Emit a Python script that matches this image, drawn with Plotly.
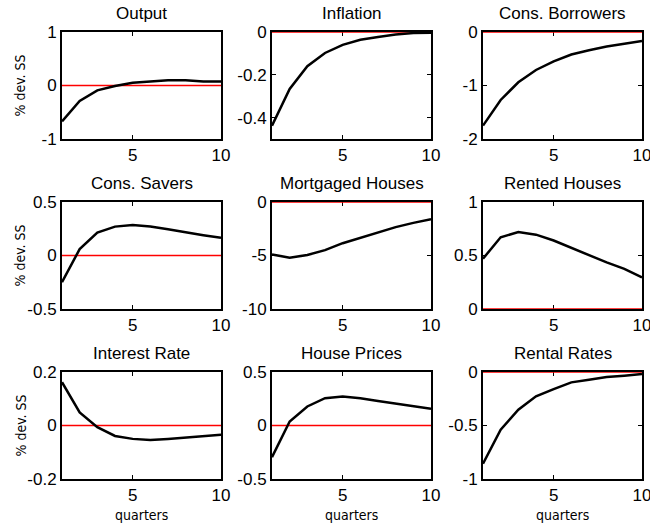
import plotly.graph_objects as go

# Impulse responses, quarters 1..10
quarters = [1, 2, 3, 4, 5, 6, 7, 8, 9, 10]

titles = ["Output", "Inflation", "Cons. Borrowers",
          "Cons. Savers", "Mortgaged Houses", "Rented Houses",
          "Interest Rate", "House Prices", "Rental Rates"]

output = [-0.67, -0.29, -0.09, -0.01, 0.05, 0.075, 0.10, 0.10, 0.075, 0.075]
inflation = [-0.438, -0.266, -0.16, -0.098, -0.06, -0.036, -0.023, -0.012, -0.005, -0.003]
cons_borrowers = [-1.75, -1.27, -0.94, -0.71, -0.55, -0.42, -0.34, -0.27, -0.22, -0.17]
cons_savers = [-0.25, 0.06, 0.215, 0.27, 0.285, 0.27, 0.245, 0.215, 0.19, 0.165]
mortgaged_houses = [-4.9, -5.2, -4.95, -4.5, -3.85, -3.35, -2.85, -2.35, -1.95, -1.6]
rented_houses = [0.47, 0.67, 0.72, 0.695, 0.64, 0.57, 0.50, 0.435, 0.375, 0.295]
interest_rate = [0.162, 0.049, -0.006, -0.039, -0.05, -0.054, -0.05, -0.045, -0.04, -0.035]
house_prices = [-0.296, 0.037, 0.178, 0.255, 0.27, 0.255, 0.23, 0.205, 0.18, 0.156]
rental_rates = [-0.857, -0.54, -0.353, -0.227, -0.16, -0.097, -0.072, -0.047, -0.034, -0.019]

series = [output, inflation, cons_borrowers,
          cons_savers, mortgaged_houses, rented_houses,
          interest_rate, house_prices, rental_rates]

y_ranges = [(-1, 1), (-0.5, 0), (-2, 0),
            (-0.5, 0.5), (-10, 0), (0, 1),
            (-0.2, 0.2), (-0.5, 0.5), (-1, 0)]
y_ticks = [[-1, 0, 1], [-0.4, -0.2, 0], [-2, -1, 0],
           [-0.5, 0, 0.5], [-10, -5, 0], [0, 0.5, 1],
           [-0.2, 0, 0.2], [-0.5, 0, 0.5], [-1, -0.5, 0]]
y_ticktext = [["-1", "0", "1"], ["-0.4", "-0.2", "0"], ["-2", "-1", "0"],
              ["-0.5", "0", "0.5"], ["-10", "-5", "0"], ["0", "0.5", "1"],
              ["-0.2", "0", "0.2"], ["-0.5", "0", "0.5"], ["-1", "-0.5", "0"]]
x_ticks = [5, 10]

W, H = 650, 525
col_px = [(62, 221), (272, 431), (483, 642)]
row_px = [(32, 139), (202, 309), (372, 479)]

tick_font = dict(family="Liberation Sans, Arial, sans-serif", size=17, color="black")
narrow_font = dict(family="DejaVu Sans Condensed, Liberation Sans Narrow, Arial Narrow, sans-serif",
                   size=14, color="black")

fig = go.Figure()
annotations = []
layout = {}

for i in range(9):
    r, c = divmod(i, 3)
    n = i + 1
    xa = "xaxis" if n == 1 else f"xaxis{n}"
    ya = "yaxis" if n == 1 else f"yaxis{n}"
    xref = "x" if n == 1 else f"x{n}"
    yref = "y" if n == 1 else f"y{n}"
    x0, x1 = col_px[c]
    top, bot = row_px[r]
    xdom = [x0 / W, x1 / W]
    ydom = [1 - bot / H, 1 - top / H]

    common = dict(showline=True, linecolor="black", linewidth=2, mirror="ticks",
                  ticks="inside", ticklen=4, tickwidth=1, tickcolor="black",
                  showgrid=False, zeroline=False, tickfont=tick_font,
                  layer="below traces", automargin=False, ticklabeloverflow="allow")
    layout[xa] = dict(domain=xdom, anchor=yref, range=[1, 10],
                      tickvals=x_ticks, ticktext=[str(v) for v in x_ticks], **common)
    layout[ya] = dict(domain=ydom, anchor=xref, range=list(y_ranges[i]),
                      tickvals=y_ticks[i], ticktext=y_ticktext[i], **common)

    # zero reference line
    fig.add_trace(go.Scatter(x=[quarters[0], quarters[-1]], y=[0, 0], mode="lines",
                             line=dict(color="#ff0000", width=1.5),
                             xaxis=xref, yaxis=yref, showlegend=False, cliponaxis=False,
                             hoverinfo="skip"))
    # impulse response
    fig.add_trace(go.Scatter(x=quarters, y=series[i], mode="lines",
                             line=dict(color="black", width=2.5),
                             xaxis=xref, yaxis=yref, showlegend=False))

    annotations.append(dict(text=titles[i], x=(xdom[0] + xdom[1]) / 2, y=ydom[1],
                            xref="paper", yref="paper", xanchor="center", yanchor="bottom",
                            yshift=7, showarrow=False,
                            font=dict(family="Liberation Sans, Arial, sans-serif",
                                      size=17, color="black")))
    if c == 0:
        annotations.append(dict(text="% dev. SS", x=20 / W, y=(ydom[0] + ydom[1]) / 2,
                                xref="paper", yref="paper", xanchor="center", yanchor="middle",
                                textangle=-90, showarrow=False, font=narrow_font))
    if r == 2:
        annotations.append(dict(text="quarters", x=(xdom[0] + xdom[1]) / 2, y=1 - 515 / H,
                                xref="paper", yref="paper", xanchor="center", yanchor="middle",
                                showarrow=False, font=narrow_font))

fig.update_layout(width=W, height=H, margin=dict(l=0, r=0, t=0, b=0, autoexpand=False),
                  paper_bgcolor="white", plot_bgcolor="white",
                  annotations=annotations, **layout)

fig.write_html("out.html")
